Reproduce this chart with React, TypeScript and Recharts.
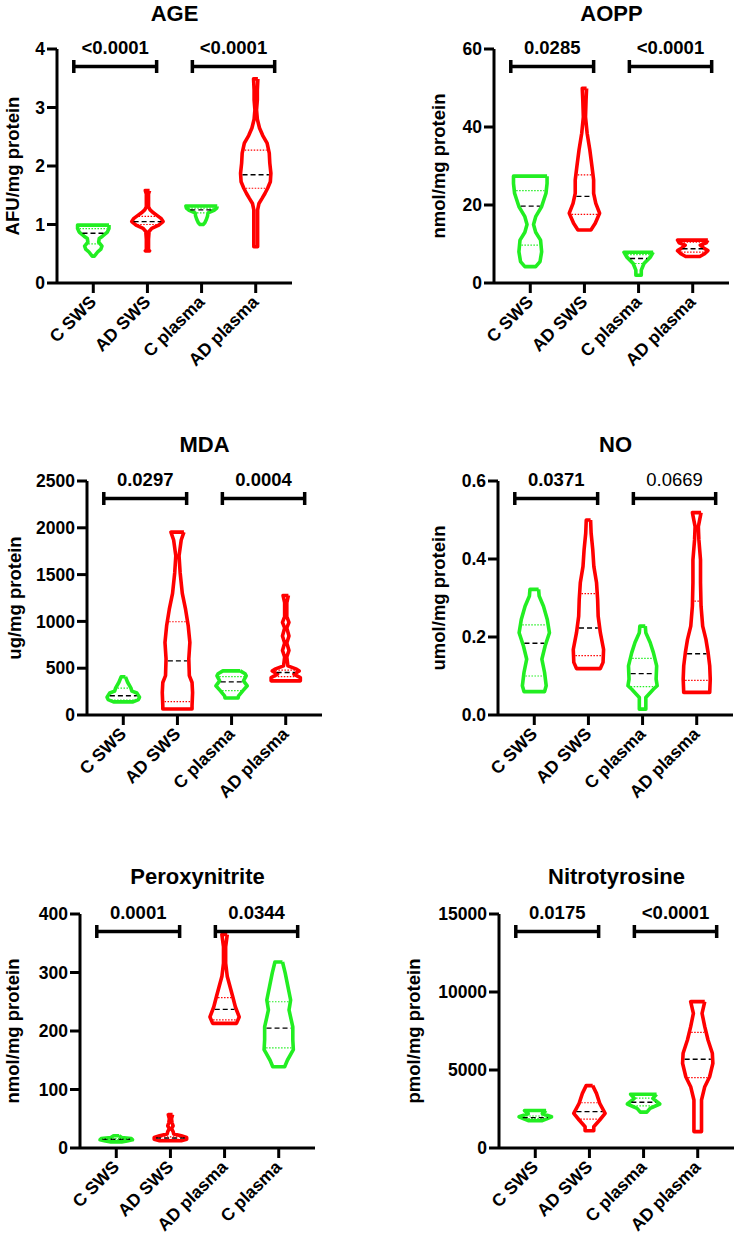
import React from 'react';
import { ScatterChart, Scatter, XAxis, YAxis } from 'recharts';

const GREEN = '#22ee22';
const RED = '#ff0000';
const FONT = '"Liberation Sans", Arial, Helvetica, sans-serif';

type Prof = [number, number][];

// ---------- AGE ----------
const ageCategories = ['C SWS', 'AD SWS', 'C plasma', 'AD plasma'];
const ageTicks = [0, 1, 2, 3, 4];
const ageCSWS: Prof = [[0.99, 0.29], [0.93, 0.29], [0.87, 0.26], [0.8, 0.17], [0.76, 0.11], [0.7, 0.1], [0.63, 0.16], [0.58, 0.14], [0.53, 0.08], [0.46, 0.02]];
const ageADSWS: Prof = [[1.58, 0.04], [1.52, 0.02], [1.3, 0.02], [1.25, 0.05], [1.2, 0.11], [1.16, 0.17], [1.105, 0.25], [1.05, 0.29], [0.99, 0.21], [0.935, 0.08], [0.88, 0.03], [0.75, 0.02], [0.56, 0.02], [0.55, 0.04]];
const ageCPlasma: Prof = [[1.316, 0.29], [1.28, 0.28], [1.248, 0.24], [1.2, 0.12], [1.145, 0.11], [1.09, 0.09], [1.03, 0.06], [1.0, 0.03]];
const ageADPlasma: Prof = [[3.49, 0.04], [3.3, 0.03], [3.13, 0.03], [2.96, 0.015], [2.8, 0.03], [2.65, 0.07], [2.52, 0.13], [2.39, 0.21], [2.22, 0.25], [2.05, 0.26], [1.875, 0.28], [1.73, 0.27], [1.62, 0.22], [1.53, 0.17], [1.45, 0.12], [1.36, 0.06], [1.25, 0.035], [0.9, 0.035], [0.62, 0.035]];
const ageQuartiles = [[0.67, 0.85, 0.93], [1.0, 1.05, 1.14], [1.2, 1.25, 1.28], [1.62, 1.85, 2.27]];
const agePValues = ['<0.0001', '<0.0001'];

// ---------- AOPP ----------
const aoppCategories = ['C SWS', 'AD SWS', 'C plasma', 'AD plasma'];
const aoppTicks = [0, 20, 40, 60];
const aoppCSWS: Prof = [[27.4, 0.31], [25.5, 0.31], [23.0, 0.29], [19.6, 0.21], [17.0, 0.1], [15.0, 0.06], [13.0, 0.1], [11.0, 0.19], [8.0, 0.21], [5.5, 0.18], [4.2, 0.1]];
const aoppADSWS: Prof = [[49.9, 0.04], [46.9, 0.03], [42.6, 0.02], [38.4, 0.05], [34.1, 0.1], [29.8, 0.14], [26.4, 0.17], [23.0, 0.17], [20.4, 0.21], [17.9, 0.28], [15.3, 0.2], [13.6, 0.12]];
const aoppCPlasma: Prof = [[7.9, 0.27], [6.7, 0.22], [5.0, 0.1], [3.3, 0.05], [2.0, 0.05]];
const aoppADPlasma: Prof = [[11.0, 0.28], [10.3, 0.25], [9.7, 0.14], [9.0, 0.2], [8.3, 0.28], [7.5, 0.22], [6.8, 0.13]];
const aoppQuartiles = [[9.7, 19.7, 23.7], [17.6, 22.2, 27.7], [5.0, 6.3, 7.3], [7.9, 8.8, 10.5]];
const aoppPValues = ['0.0285', '<0.0001'];

// ---------- MDA ----------
const mdaCategories = ['C SWS', 'AD SWS', 'C plasma', 'AD plasma'];
const mdaTicks = [0, 500, 1000, 1500, 2000, 2500];
const mdaCSWS: Prof = [[408, 0.04], [350, 0.08], [290, 0.14], [255, 0.16], [235, 0.25], [190, 0.3], [165, 0.28], [140, 0.18]];
const mdaADSWS: Prof = [[1954, 0.12], [1870, 0.07], [1700, 0.03], [1520, 0.05], [1300, 0.09], [1130, 0.15], [950, 0.2], [775, 0.23], [600, 0.21], [420, 0.22], [347, 0.27], [240, 0.28], [100, 0.27], [64, 0.27]];
const mdaCPlasma: Prof = [[471, 0.16], [440, 0.25], [418, 0.27], [365, 0.22], [312, 0.29], [260, 0.21], [205, 0.13], [182, 0.12]];
const mdaADPlasma: Prof = [[1277, 0.05], [1200, 0.02], [1050, 0.02], [990, 0.06], [930, 0.02], [845, 0.06], [770, 0.02], [690, 0.06], [620, 0.02], [525, 0.04], [490, 0.2], [470, 0.25], [436, 0.15], [400, 0.27], [365, 0.27]];
const mdaQuartiles = [[160, 206, 287], [142, 578, 996], [260, 354, 411], [410, 454, 480]];
const mdaPValues = ['0.0297', '0.0004'];

// ---------- NO ----------
const noCategories = ['C SWS', 'AD SWS', 'C plasma', 'AD plasma'];
const noTicks = [0, 0.2, 0.4, 0.6];
const noCSWS: Prof = [[0.322, 0.08], [0.305, 0.09], [0.279, 0.17], [0.245, 0.24], [0.211, 0.28], [0.177, 0.2], [0.143, 0.14], [0.109, 0.19], [0.075, 0.22], [0.06, 0.19]];
const noADSWS: Prof = [[0.5, 0.04], [0.466, 0.05], [0.424, 0.08], [0.381, 0.1], [0.339, 0.15], [0.296, 0.17], [0.253, 0.18], [0.211, 0.22], [0.168, 0.28], [0.135, 0.27], [0.119, 0.22]];
const noCPlasma: Prof = [[0.228, 0.05], [0.211, 0.06], [0.186, 0.14], [0.16, 0.2], [0.126, 0.26], [0.092, 0.25], [0.075, 0.27], [0.066, 0.2], [0.045, 0.06], [0.015, 0.06]];
const noADPlasma: Prof = [[0.519, 0.08], [0.483, 0.03], [0.449, 0.04], [0.398, 0.07], [0.339, 0.07], [0.279, 0.08], [0.228, 0.11], [0.194, 0.17], [0.16, 0.21], [0.126, 0.24], [0.092, 0.25], [0.058, 0.24]];
const noQuartiles = [[0.1, 0.184, 0.231], [0.152, 0.223, 0.311], [0.073, 0.106, 0.145], [0.089, 0.157, 0.292]];
const noPValues = ['0.0371', '0.0669'];

// ---------- Peroxynitrite ----------
const pnCategories = ['C SWS', 'AD SWS', 'AD plasma', 'C plasma'];
const pnTicks = [0, 100, 200, 300, 400];
const pnCSWS: Prof = [[21, 0.05], [18, 0.1], [16, 0.28], [14, 0.3], [12, 0.2], [10.5, 0.1]];
const pnADSWS: Prof = [[57, 0.04], [50, 0.02], [43, 0.03], [38, 0.05], [33, 0.02], [28, 0.05], [24, 0.06], [21, 0.2], [18, 0.3], [15, 0.3], [12.5, 0.2]];
const pnADPlasma: Prof = [[365, 0.05], [344, 0.02], [316, 0.02], [293, 0.05], [276, 0.1], [259, 0.15], [241, 0.2], [224, 0.27], [213, 0.22]];
const pnCPlasma: Prof = [[318, 0.07], [299, 0.12], [276, 0.17], [253, 0.22], [236, 0.19], [207, 0.26], [185, 0.26], [168, 0.27], [150, 0.16], [139, 0.11]];
const pnQuartiles = [[14, 15, 16], [15, 17, 19], [219, 237, 257], [171, 205, 250]];
const pnPValues = ['0.0001', '0.0344'];

// ---------- Nitrotyrosine ----------
const ntCategories = ['C SWS', 'AD SWS', 'C plasma', 'AD plasma'];
const ntTicks = [0, 5000, 10000, 15000];
const ntCSWS: Prof = [[2400, 0.2], [2200, 0.13], [2000, 0.3], [1850, 0.2], [1750, 0.12]];
const ntADSWS: Prof = [[4000, 0.06], [3500, 0.13], [2865, 0.19], [2224, 0.29], [1795, 0.19], [1365, 0.08], [1110, 0.08]];
const ntCPlasma: Prof = [[3450, 0.24], [3180, 0.17], [2820, 0.3], [2540, 0.12], [2300, 0.06]];
const ntADPlasma: Prof = [[9380, 0.13], [8630, 0.08], [7780, 0.13], [6920, 0.19], [6070, 0.27], [5430, 0.28], [4570, 0.22], [3930, 0.13], [3080, 0.07], [1050, 0.07]];
const ntQuartiles = [[1880, 1950, 2050], [1850, 2330, 2900], [2700, 2930, 3200], [4506, 5686, 7417]];
const ntPValues = ['0.0175', '<0.0001'];

// ---------- helpers ----------
const violinPoints = (center: number, prof: Prof) => {
  const right = prof.map(([v, w]) => ({ x: center + w, y: v }));
  const left = prof.slice().reverse().map(([v, w]) => ({ x: center - w, y: v }));
  return [...right, ...left, right[0]];
};

const widthAt = (prof: Prof, q: number) => {
  for (let i = 0; i < prof.length - 1; i++) {
    const [v0, w0] = prof[i];
    const [v1, w1] = prof[i + 1];
    if (q <= v0 && q >= v1) {
      const t = v0 === v1 ? 0 : (q - v1) / (v0 - v1);
      return w1 + t * (w0 - w1);
    }
  }
  return prof[prof.length - 1][1];
};

type PanelCfg = {
  title: string;
  yLabel: string;
  categories: string[];
  ticks: number[];
  profiles: Prof[];
  colors: string[];
  quartiles: number[][];
  pValues: string[];
  pBold: boolean[];
  fmt?: (v: number) => string;
  left: number;
  top: number;
  yAxisWidth: number;
  mTop: number;
  mRight: number;
  yLabelX: number;
  titleY: number;
};

const PLOT_H = 234;
const X_AXIS_H = 92;
const CHART_W = 369;

const panels: PanelCfg[] = [
  {
    title: 'AGE', yLabel: 'AFU/mg protein', categories: ageCategories, ticks: ageTicks,
    profiles: [ageCSWS, ageADSWS, ageCPlasma, ageADPlasma], colors: [GREEN, RED, GREEN, RED],
    quartiles: ageQuartiles, pValues: agePValues, pBold: [true, true],
    left: 0, top: 0, yAxisWidth: 57, mTop: 49, mRight: 77, yLabelX: 12, titleY: 14,
  },
  {
    title: 'AOPP', yLabel: 'nmol/mg protein', categories: aoppCategories, ticks: aoppTicks,
    profiles: [aoppCSWS, aoppADSWS, aoppCPlasma, aoppADPlasma], colors: [GREEN, RED, GREEN, RED],
    quartiles: aoppQuartiles, pValues: aoppPValues, pBold: [true, true],
    left: 369, top: 0, yAxisWidth: 125, mTop: 49, mRight: 9, yLabelX: 69, titleY: 14,
  },
  {
    title: 'MDA', yLabel: 'ug/mg protein', categories: mdaCategories, ticks: mdaTicks,
    profiles: [mdaCSWS, mdaADSWS, mdaCPlasma, mdaADPlasma], colors: [GREEN, RED, GREEN, RED],
    quartiles: mdaQuartiles, pValues: mdaPValues, pBold: [true, true],
    left: 0, top: 400, yAxisWidth: 87, mTop: 81, mRight: 47, yLabelX: 14, titleY: 445,
  },
  {
    title: 'NO', yLabel: 'umol/mg protein', categories: noCategories, ticks: noTicks,
    profiles: [noCSWS, noADSWS, noCPlasma, noADPlasma], colors: [GREEN, RED, GREEN, RED],
    quartiles: noQuartiles, pValues: noPValues, pBold: [true, false], fmt: (v: number) => v.toFixed(1),
    left: 369, top: 400, yAxisWidth: 129, mTop: 81, mRight: 5, yLabelX: 69, titleY: 445,
  },
  {
    title: 'Peroxynitrite', yLabel: 'nmol/mg protein', categories: pnCategories, ticks: pnTicks,
    profiles: [pnCSWS, pnADSWS, pnADPlasma, pnCPlasma], colors: [GREEN, RED, RED, GREEN],
    quartiles: pnQuartiles, pValues: pnPValues, pBold: [true, true],
    left: 0, top: 820, yAxisWidth: 80, mTop: 94, mRight: 54, yLabelX: 12, titleY: 877,
  },
  {
    title: 'Nitrotyrosine', yLabel: 'pmol/mg protein', categories: ntCategories, ticks: ntTicks,
    profiles: [ntCSWS, ntADSWS, ntCPlasma, ntADPlasma], colors: [GREEN, RED, GREEN, RED],
    quartiles: ntQuartiles, pValues: ntPValues, pBold: [true, true],
    left: 369, top: 820, yAxisWidth: 130, mTop: 94, mRight: 4, yLabelX: 44, titleY: 877,
  },
];

const Empty = () => <g />;

function Panel({ cfg }: { cfg: PanelCfg }) {
  const max = cfg.ticks[cfg.ticks.length - 1];
  const height = cfg.mTop + PLOT_H + X_AXIS_H;
  const plotW = CHART_W - cfg.yAxisWidth - cfg.mRight;
  const plotCenterX = cfg.left + cfg.yAxisWidth + plotW / 2;
  const by = max * 0.925;
  const cap = max * 0.028;
  const brackets = [
    [0.64, 2.17],
    [2.83, 4.35],
  ];
  const cy = cfg.mTop + PLOT_H / 2;

  const xTick = (p: any) => {
    const { x, y, payload } = p;
    const ax = x + 4;
    const ay = y + 8;
    return (
      <text
        x={ax}
        y={ay}
        transform={`rotate(-45 ${ax} ${ay})`}
        textAnchor="end"
        fontSize={17.5}
        fontWeight={700}
        fontFamily={FONT}
        fill="#000"
      >
        {cfg.categories[Math.round(payload.value) - 1]}
      </text>
    );
  };

  const yLabel = () => (
    <text
      x={cfg.yLabelX}
      y={cy}
      transform={`rotate(-90 ${cfg.yLabelX} ${cy})`}
      textAnchor="middle"
      dy="0.355em"
      fontSize={18.5}
      fontWeight={700}
      fontFamily={FONT}
      fill="#000"
    >
      {cfg.yLabel}
    </text>
  );

  return (
    <>
      <div
        style={{
          position: 'absolute',
          left: plotCenterX - 150,
          top: cfg.titleY - 10.75,
          width: 300,
          textAlign: 'center',
          fontFamily: FONT,
          fontWeight: 700,
          fontSize: 22,
          lineHeight: '22px',
          color: '#000',
        }}
      >
        {cfg.title}
      </div>
      <div style={{ position: 'absolute', left: cfg.left, top: cfg.top }}>
        <ScatterChart
          width={CHART_W}
          height={height}
          margin={{ top: cfg.mTop, right: cfg.mRight, bottom: 0, left: 0 }}
          style={{ overflow: 'visible' }}
        >
          <XAxis
            type="number"
            dataKey="x"
            domain={[0.33, 4.67]}
            ticks={[1, 2, 3, 4]}
            interval={0}
            height={X_AXIS_H}
            tickSize={10}
            stroke="#000"
            axisLine={{ stroke: '#000', strokeWidth: 3 }}
            tickLine={{ stroke: '#000', strokeWidth: 3 }}
            tick={xTick}
          />
          <YAxis
            type="number"
            dataKey="y"
            domain={[0, max]}
            ticks={cfg.ticks}
            interval={0}
            width={cfg.yAxisWidth}
            tickSize={10}
            stroke="#000"
            axisLine={{ stroke: '#000', strokeWidth: 3 }}
            tickLine={{ stroke: '#000', strokeWidth: 3 }}
            tick={{ fill: '#000', fontSize: 17.5, fontWeight: 700, fontFamily: FONT }}
            tickFormatter={cfg.fmt ? cfg.fmt : (v: number) => String(v)}
            label={yLabel}
          />
          {cfg.profiles.map((prof, i) => (
            <Scatter
              key={`v${i}`}
              data={violinPoints(i + 1, prof)}
              fill={cfg.colors[i]}
              line={{ stroke: cfg.colors[i], strokeWidth: 3.6, strokeLinejoin: 'round' }}
              lineJointType="linear"
              shape={Empty}
              isAnimationActive={false}
            />
          ))}
          {cfg.quartiles.map((qs, i) =>
            qs.map((q, j) => {
              const hw = Math.max(widthAt(cfg.profiles[i], q) - 0.035, 0.012);
              const isMed = j === 1;
              return (
                <Scatter
                  key={`q${i}-${j}`}
                  data={[
                    { x: i + 1 - hw, y: q },
                    { x: i + 1 + hw, y: q },
                  ]}
                  fill={isMed ? '#000' : cfg.colors[i]}
                  line={{
                    stroke: isMed ? '#000' : cfg.colors[i],
                    strokeWidth: isMed ? 1.4 : 1.2,
                    strokeDasharray: isMed ? '5 3' : '1.5 1.5',
                  }}
                  shape={Empty}
                  isAnimationActive={false}
                />
              );
            })
          )}
          {brackets.map(([x1, x2], k) => (
            <Scatter
              key={`b${k}`}
              data={[
                { x: x1, y: by + cap },
                { x: x1, y: by - cap },
                { x: x1, y: by },
                { x: x2, y: by },
                { x: x2, y: by + cap },
                { x: x2, y: by - cap },
              ]}
              fill="#000"
              line={{ stroke: '#000', strokeWidth: 3.5 }}
              shape={Empty}
              isAnimationActive={false}
            />
          ))}
          {brackets.map(([x1, x2], k) => (
            <Scatter
              key={`t${k}`}
              data={[{ x: (x1 + x2) / 2, y: by }]}
              fill="#000"
              shape={(p: any) => (
                <text
                  x={p.cx}
                  y={p.cy - 12.5}
                  textAnchor="middle"
                  fontSize={18.5}
                  fontWeight={cfg.pBold[k] ? 700 : 400}
                  fontFamily={FONT}
                  fill="#000"
                >
                  {cfg.pValues[k]}
                </text>
              )}
              isAnimationActive={false}
            />
          ))}
        </ScatterChart>
      </div>
    </>
  );
}

export default function App() {
  return (
    <div
      style={{
        position: 'absolute',
        left: 0,
        top: 0,
        width: 739,
        height: 1241,
        background: '#fff',
        overflow: 'hidden',
      }}
    >
      {panels.map((cfg, i) => (
        <Panel key={i} cfg={cfg} />
      ))}
    </div>
  );
}
